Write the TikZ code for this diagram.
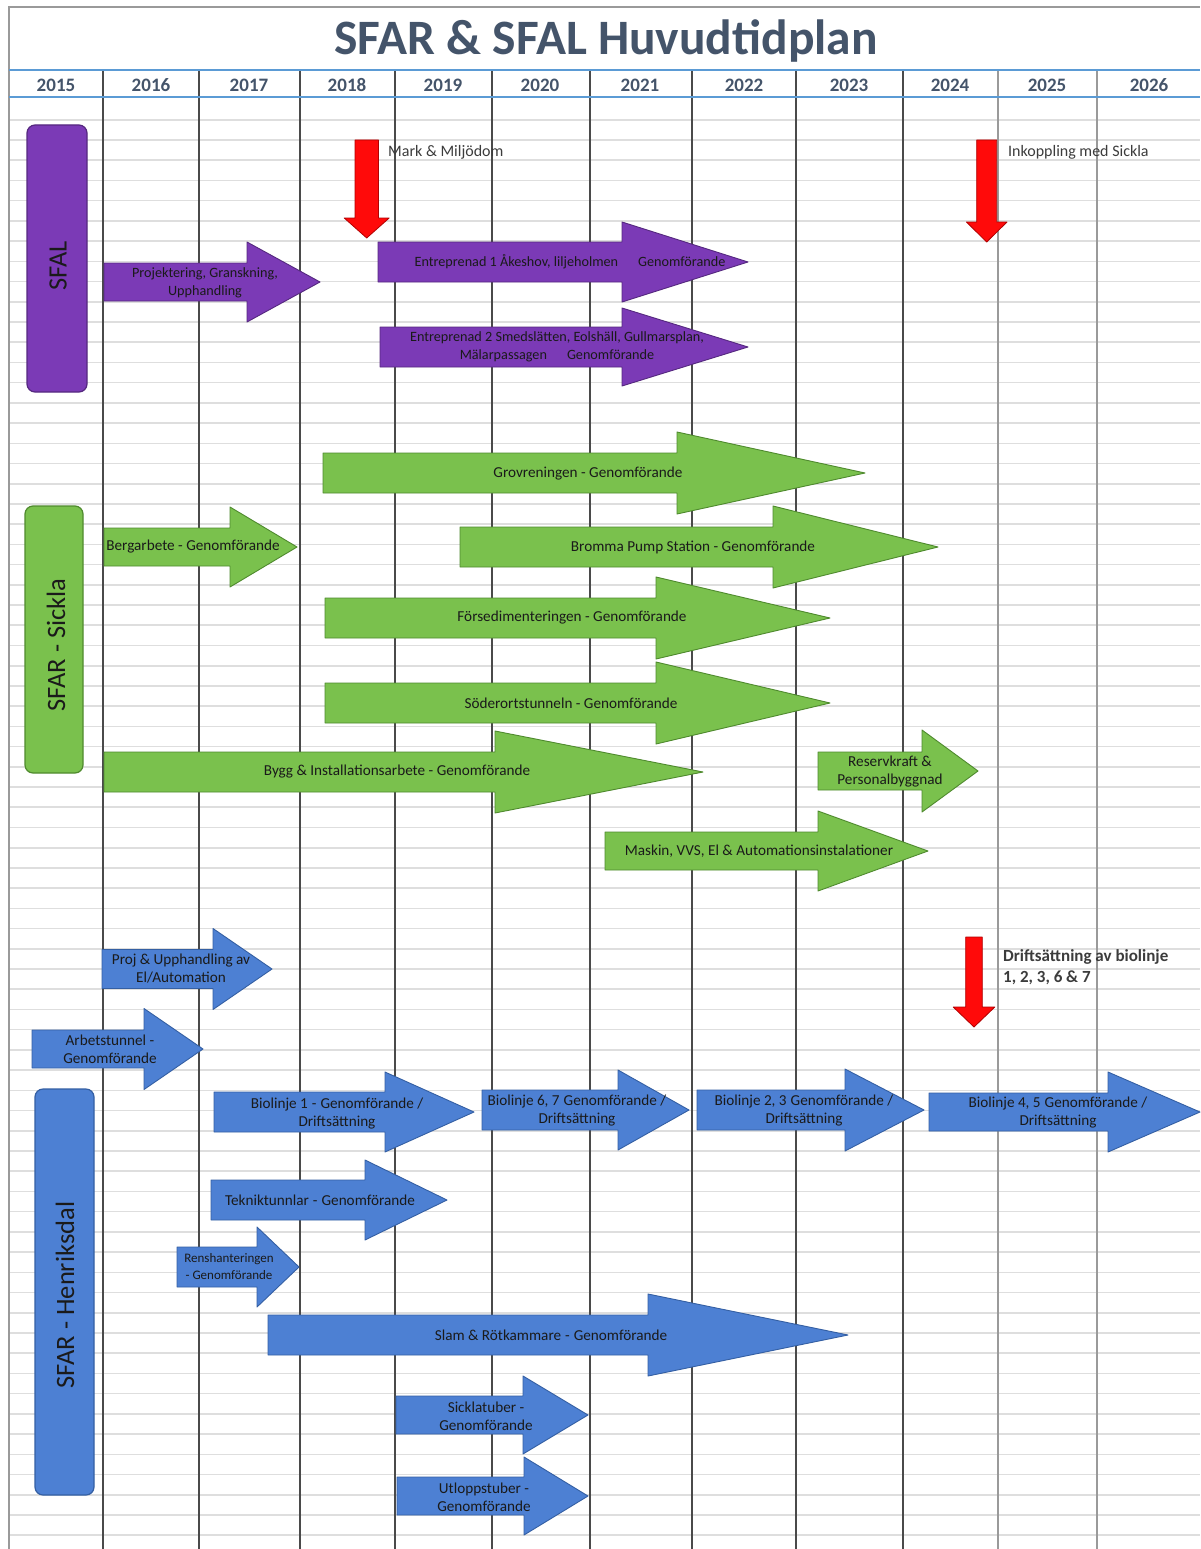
\documentclass[tikz,border=0pt]{standalone}
\usepackage{fontspec}
\setmainfont{Carlito}
\definecolor{titleblue}{HTML}{44546A}
\definecolor{hdrblue}{HTML}{5B9BD5}
\definecolor{gridgray}{HTML}{DEDEDE}
\definecolor{vlinec}{HTML}{4A4A4A}
\definecolor{vlinelight}{HTML}{9A9A9A}
\definecolor{purplefill}{HTML}{7B3AB6}
\definecolor{purpleedge}{HTML}{55287F}
\definecolor{greenfill}{HTML}{7AC14D}
\definecolor{greenedge}{HTML}{4F8A2E}
\definecolor{bluefill}{HTML}{4D80D3}
\definecolor{blueedge}{HTML}{345FA3}
\definecolor{redfill}{HTML}{FF0A0A}
\definecolor{rededge}{HTML}{B00000}
\definecolor{txt}{HTML}{1A1A1A}
\tikzset{
  gridline/.style={draw=gridgray, line width=1.6pt},
  colline/.style={draw=vlinec, line width=1.1pt},
  collight/.style={draw=vlinelight, line width=1.1pt},
  hdrline/.style={draw=hdrblue, line width=2.6pt},
  parr/.style={fill=purplefill, draw=purpleedge, line width=0.9pt, line join=round},
  garr/.style={fill=greenfill, draw=greenedge, line width=0.9pt, line join=round},
  barr/.style={fill=bluefill, draw=blueedge, line width=0.9pt, line join=round},
  rarr/.style={fill=redfill, draw=rededge, line width=0.8pt, line join=round},
  atext/.style={inner sep=0pt, text=txt, align=center, font=\fontsize{15.2}{18}\selectfont},
  ptext/.style={atext, font=\fontsize{14.2}{17.5}\selectfont},
  yeartext/.style={inner sep=0pt, text=titleblue, font=\fontsize{19}{19}\selectfont\bfseries},
  catbar/.style={rounded corners=8pt, line width=1.2pt, inner sep=0pt},
  cattext/.style={inner sep=0pt, rotate=90, text=txt, font=\fontsize{26.5}{26.5}\selectfont},
  notetext/.style={inner sep=0pt, text=txt!85, font=\fontsize{16}{20}\selectfont, anchor=west}
}
% style, x0, xhead, xtip, ycenter, body half height, head half height
\newcommand{\hbarrow}[7]{\draw[#1] (#2,#5-#6) -- (#3,#5-#6) -- (#3,#5-#7) -- (#4,#5) -- (#3,#5+#7) -- (#3,#5+#6) -- (#2,#5+#6) -- cycle;}
% xc, shaft half width, head half width, ytop, yheadbase, ytip
\newcommand{\vdarrow}[6]{\draw[rarr] (#1-#2,#4) -- (#1+#2,#4) -- (#1+#2,#5) -- (#1+#3,#5) -- (#1,#6) -- (#1-#3,#5) -- (#1-#2,#5) -- cycle;}
\begin{document}
\begin{tikzpicture}[x=1pt, y=-1pt]
\useasboundingbox (0,0) rectangle (1200,1549);
\fill[white] (0,0) rectangle (1200,1549);
% grid
\foreach \k in {0,...,70} \draw[gridline] (9,119.78+20.22*\k) -- (1200,119.78+20.22*\k);
\foreach \x in {103,199,300,395,492,590,692,796,903} \draw[colline] (\x,70) -- (\x,1549);
\foreach \x in {998,1097} \draw[collight] (\x,70) -- (\x,1549);
\draw[draw=vlinelight, line width=1.4pt] (9,1549) -- (9,7) -- (1200,7);
\fill[white] (10,71) rectangle (1200,96);
\foreach \x in {103,199,300,395,492,590,692,796,903} \draw[colline] (\x,70) -- (\x,97);
\foreach \x in {998,1097} \draw[collight] (\x,70) -- (\x,97);
\draw[hdrline] (9,70) -- (1200,70);
\draw[hdrline] (9,97) -- (1200,97);
% title and years
\node (title) [inner sep=0pt, text=titleblue, font=\fontsize{49.5}{49.5}\selectfont\bfseries, anchor=base] at (606,55) {SFAR \& SFAL Huvudtidplan};
\node (y2015) [yeartext] at (56,85) {2015};
\node (y2016) [yeartext] at (151,85) {2016};
\node (y2017) [yeartext] at (249,85) {2017};
\node (y2018) [yeartext] at (347,85) {2018};
\node (y2019) [yeartext] at (443,85) {2019};
\node (y2020) [yeartext] at (540,85) {2020};
\node (y2021) [yeartext] at (640,85) {2021};
\node (y2022) [yeartext] at (744,85) {2022};
\node (y2023) [yeartext] at (849,85) {2023};
\node (y2024) [yeartext] at (950,85) {2024};
\node (y2025) [yeartext] at (1047,85) {2025};
\node (y2026) [yeartext] at (1149,85) {2026};
% category bars
\node (barsfal) [catbar, draw=purpleedge, fill=purplefill, minimum width=60pt, minimum height=267pt] at (57,258.5) {};
\node (lblsfal) [cattext] at (58,266) {SFAL};
\node (barsickla) [catbar, draw=greenedge, fill=greenfill, minimum width=58pt, minimum height=267pt] at (54,639.5) {};
\node (lblsickla) [cattext] at (56,645) {SFAR - Sickla};
\node (barhenriksdal) [catbar, draw=blueedge, fill=bluefill, minimum width=59pt, minimum height=406pt] at (64.5,1292) {};
\node (lblhenriksdal) [cattext] at (65,1295) {SFAR - Henriksdal};
% red milestone arrows
\vdarrow{366.7}{11.7}{22.5}{140}{218}{238}
\node (mark) [notetext] at (388,152) {Mark \& Miljödom};
\vdarrow{986.7}{10}{20.3}{140}{222}{242}
\node (inkoppling) [notetext] at (1008,152) {Inkoppling med Sickla};
\vdarrow{974}{8.3}{20.8}{937}{1007}{1027}
\node (drift) [notetext, anchor=north west, align=left, font=\fontsize{17}{21}\selectfont\bfseries] at (1003,949) {Driftsättning av biolinje\\1, 2, 3, 6 \& 7};
% SFAL arrows
\hbarrow{parr}{104}{247}{320}{282}{19}{40}
\node (p1) [ptext] at (205,283) {Projektering, Granskning,\\Upphandling};
\hbarrow{parr}{378}{622}{748}{262}{20}{40}
\node (p2) [ptext] at (570,262) {Entreprenad 1 Åkeshov, liljeholmen\hspace{20pt}Genomförande};
\hbarrow{parr}{380}{622}{748}{347}{20}{39}
\node (p3) [ptext] at (557,347) {Entreprenad 2 Smedslätten, Eolshäll, Gullmarsplan,\\Mälarpassagen\hspace{20pt}Genomförande};
% Sickla arrows
\hbarrow{garr}{323}{677}{865}{473}{20}{41}
\node (g1) [atext] at (588,474) {Grovreningen - Genomförande};
\hbarrow{garr}{104}{230}{297}{547}{19}{40}
\node (g2) [atext] at (193,547) {Bergarbete - Genomförande};
\hbarrow{garr}{460}{773}{938}{547}{20}{41}
\node (g3) [atext] at (693,547) {Bromma Pump Station - Genomförande};
\hbarrow{garr}{325}{656}{830}{618}{20}{41}
\node (g4) [atext] at (572,618) {Försedimenteringen - Genomförande};
\hbarrow{garr}{325}{656}{830}{703}{20}{41}
\node (g5) [atext] at (571,703) {Söderortstunneln - Genomförande};
\hbarrow{garr}{104}{495}{703}{772}{20}{41}
\node (g6) [atext] at (397,772) {Bygg \& Installationsarbete - Genomförande};
\hbarrow{garr}{818}{922}{978}{771}{19}{41}
\node (g7) [atext] at (890,772) {Reservkraft \&\\Personalbyggnad};
\hbarrow{garr}{605}{818}{928}{851}{19}{40}
\node (g8) [atext] at (759,851) {Maskin, VVS, El \& Automationsinstalationer};
% Henriksdal arrows
\hbarrow{barr}{102}{213}{272}{969}{19.5}{40.5}
\node (b1) [atext] at (181,969) {Proj \& Upphandling av\\El/Automation};
\hbarrow{barr}{32}{144}{203}{1049}{19}{40.5}
\node (b2) [atext] at (110,1049) {Arbetstunnel -\\Genomförande};
\hbarrow{barr}{214}{385}{474}{1112}{20}{40}
\node (b3) [atext] at (337,1114) {Biolinje 1\hspace{4pt}-\hspace{4pt}Genomförande /\\Driftsättning};
\hbarrow{barr}{482}{618}{689}{1110}{20}{40}
\node (b4) [atext] at (577,1111) {Biolinje 6, 7\hspace{4pt}Genomförande /\\Driftsättning};
\hbarrow{barr}{697}{845}{924}{1110}{20}{41}
\node (b5) [atext] at (804,1111) {Biolinje 2, 3\hspace{4pt}Genomförande /\\Driftsättning};
\hbarrow{barr}{929}{1108}{1200}{1112}{19}{40}
\node (b6) [atext] at (1058,1113) {Biolinje 4, 5\hspace{4pt}Genomförande /\\Driftsättning};
\hbarrow{barr}{211}{365}{447}{1200}{20}{40}
\node (b7) [atext] at (320,1200) {Tekniktunnlar\hspace{4pt}-\hspace{4pt}Genomförande};
\hbarrow{barr}{177}{257}{299}{1267}{20}{40}
\node (b8) [atext, font=\fontsize{13}{17}\selectfont] at (229,1267) {Renshanteringen\\- Genomförande};
\hbarrow{barr}{268}{648}{848}{1335}{20}{41}
\node (b9) [atext] at (551,1335) {Slam \& Rötkammare\hspace{4pt}-\hspace{4pt}Genomförande};
\hbarrow{barr}{396}{523}{588}{1415}{19}{39}
\node (b10) [atext] at (486,1416) {Sicklatuber -\\Genomförande};
\hbarrow{barr}{397}{524}{588}{1496}{19}{39}
\node (b11) [atext] at (484,1497) {Utloppstuber -\\Genomförande};
\end{tikzpicture}
\end{document}
